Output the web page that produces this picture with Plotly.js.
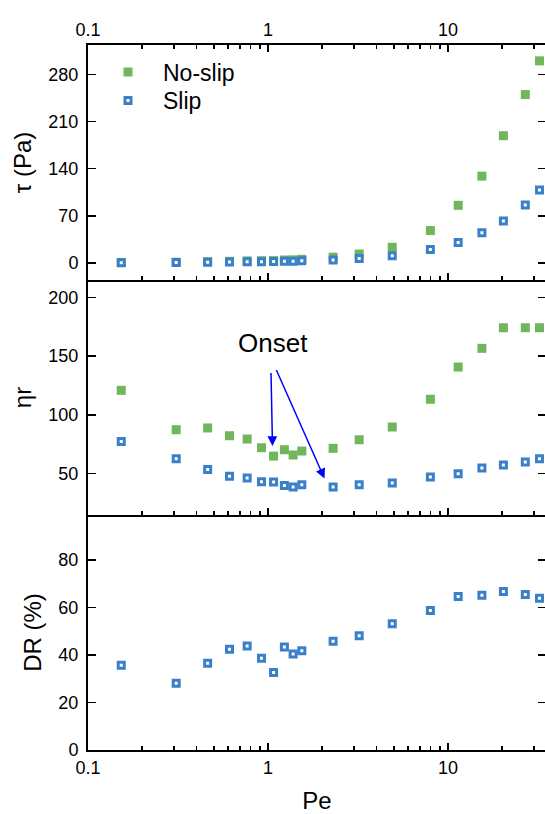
<!DOCTYPE html>
<html>
<head>
<meta charset="utf-8">
<script src="https://cdn.plot.ly/plotly-3.0.1.min.js"></script>
<style>
html,body{margin:0;padding:0;overflow:hidden;background:#fff;}
#chart{width:548px;height:814px;}
</style>
</head>
<body>
<div id="chart"></div>
<script>
// Peclet number (shared x)
const Pe = [0.153, 0.309, 0.462, 0.611, 0.766, 0.92, 1.074, 1.233, 1.379, 1.541, 2.3, 3.21, 4.9, 7.98, 11.39, 15.43, 20.31, 26.88, 32.24];
// shear stress tau (Pa)
const tauNoSlip = [1.0, 1.4, 2.2, 2.7, 3.3, 3.6, 3.7, 4.6, 4.9, 5.7, 8.8, 13.5, 23.5, 48.3, 85.7, 129, 189, 250, 300];
const tauSlip = [0.6, 1.0, 1.3, 1.6, 1.9, 2.1, 2.5, 2.6, 2.9, 3.4, 4.8, 7.0, 11.0, 20.1, 30.5, 45.2, 62.3, 86.1, 108.3];
// relative viscosity eta_r
const etaNoSlip = [120.9, 87.4, 88.9, 82.3, 79.5, 72.1, 65.0, 70.4, 65.9, 69.3, 71.6, 78.9, 89.7, 113.3, 140.7, 156.6, 174.1, 174.1, 174.1];
const etaSlip = [77.5, 62.8, 53.7, 47.8, 46.3, 43.2, 42.9, 40.1, 38.7, 40.6, 38.7, 40.6, 42.1, 47.2, 50.0, 54.8, 57.4, 59.9, 62.8];
// drag reduction DR (%)
const DR = [35.7, 28.1, 36.5, 42.4, 43.8, 38.6, 32.6, 43.4, 40.4, 41.8, 45.8, 48.1, 53.1, 58.7, 64.6, 65.1, 66.7, 65.4, 63.9];

const seriesNames = ['No-slip', 'Slip'];
const xTickVals = [0.1, 1, 10];
const xTickText = ['0.1', '1', '10'];
const xMinorVals = [0.2,0.3,0.4,0.5,0.6,0.7,0.8,0.9,2,3,4,5,6,7,8,9,20,30];
const tauTicks = [0, 70, 140, 210, 280];
const etaTicks = [50, 100, 150, 200];
const drTicks = [0, 20, 40, 60, 80];

const GREEN = 'rgb(112,183,92)';
const BLUE = 'rgb(58,128,200)';
const FONT = '"Liberation Sans", Arial, sans-serif';

const greenMarker = {symbol: 'square', size: 9, color: GREEN, line: {width: 0}};
const blueMarker = {symbol: 'square', size: 6, color: '#ffffff', line: {width: 3, color: BLUE}};

const traces = [
  {x: Pe, y: tauNoSlip, xaxis: 'x', yaxis: 'y', mode: 'markers', type: 'scatter', name: seriesNames[0], marker: greenMarker, showlegend: true, legend: 'legend'},
  {x: Pe, y: tauSlip, xaxis: 'x', yaxis: 'y', mode: 'markers', type: 'scatter', name: seriesNames[1], marker: blueMarker, showlegend: true, legend: 'legend2'},
  {x: Pe, y: etaNoSlip, xaxis: 'x2', yaxis: 'y2', mode: 'markers', type: 'scatter', name: seriesNames[0], marker: greenMarker, showlegend: false},
  {x: Pe, y: etaSlip, xaxis: 'x2', yaxis: 'y2', mode: 'markers', type: 'scatter', name: seriesNames[1], marker: blueMarker, showlegend: false},
  {x: Pe, y: DR, xaxis: 'x3', yaxis: 'y3', mode: 'markers', type: 'scatter', name: seriesNames[1], marker: blueMarker, showlegend: false}
];

const xRange = [-1, 1.5444];
function xaxisBase(extra) {
  return Object.assign({
    type: 'log', range: xRange, showgrid: false, zeroline: false,
    showline: true, linecolor: '#000', linewidth: 2,
    ticks: 'inside', ticklen: 7, tickwidth: 1.5, tickcolor: '#000',
    tickvals: xTickVals, ticktext: xTickText,
    minor: {tickvals: xMinorVals, ticks: 'inside', ticklen: 4, tickwidth: 1.5, tickcolor: '#000', showgrid: false},
    tickfont: {family: FONT, size: 18, color: '#000'}
  }, extra);
}
function yaxisBase(extra) {
  return Object.assign({
    showgrid: false, zeroline: false, showline: true, linecolor: '#000', linewidth: 2,
    ticks: 'inside', ticklen: 8, tickwidth: 1.5, tickcolor: '#000', mirror: 'ticks',
    tickfont: {family: FONT, size: 18, color: '#000'},
    ticklabelstandoff: 4
  }, extra);
}
function legendAt(py) {
  return {
    x: (93 - 88) / 458, y: 1 - (py - 45) / 705, xanchor: 'left', yanchor: 'middle',
    bgcolor: 'rgba(0,0,0,0)', borderwidth: 0,
    font: {family: FONT, size: 23, color: '#000'},
    itemwidth: 60
  };
}

const layout = {
  width: 548, height: 814,
  margin: {l: 88, r: 2, t: 45, b: 64},
  paper_bgcolor: '#fff', plot_bgcolor: '#fff',
  font: {family: FONT, color: '#000'},
  showlegend: true,
  legend: legendAt(72),
  legend2: legendAt(100.5),
  xaxis: xaxisBase({anchor: 'y', side: 'top', mirror: 'ticks', showticklabels: true, ticklabelstandoff: 0}),
  xaxis2: xaxisBase({anchor: 'y2', matches: 'x', side: 'bottom', mirror: false, showticklabels: false}),
  xaxis3: xaxisBase({anchor: 'y3', matches: 'x', side: 'bottom', mirror: false, showticklabels: true, ticklabelstandoff: 0,
    title: {text: 'Pe', font: {family: FONT, size: 24, color: '#000'}, standoff: 22}}),
  yaxis: yaxisBase({domain: [0.6667, 1], anchor: 'x', range: [-25, 323.5], tickvals: tauTicks,
    title: {text: 'τ (Pa)', font: {family: FONT, size: 24, color: '#000'}, standoff: 10}}),
  yaxis2: yaxisBase({domain: [0.3333, 0.6667], anchor: 'x2', range: [14.9, 214.7], tickvals: etaTicks,
    title: {text: 'ηr', font: {family: FONT, size: 24, color: '#000'}, standoff: 10}}),
  yaxis3: yaxisBase({domain: [0, 0.3333], anchor: 'x3', range: [0, 98.9], tickvals: drTicks,
    title: {text: 'DR (%)', font: {family: FONT, size: 24, color: '#000'}, standoff: 10}}),
  annotations: [
    {xref: 'paper', yref: 'paper', x: (273 - 88) / 458, y: 1 - (343 - 45) / 705, text: 'Onset', showarrow: false,
     font: {family: FONT, size: 26, color: '#000'}, xanchor: 'center', yanchor: 'middle'},
    {xref: 'paper', yref: 'paper', x: (272.5 - 88) / 458, y: 1 - (446 - 45) / 705, text: '', showarrow: true,
     axref: 'pixel', ayref: 'pixel', ax: -1.5, ay: -74.5, arrowcolor: '#0000ff', arrowwidth: 1.5, arrowhead: 2, arrowsize: 1.3, standoff: 0, startstandoff: 0},
    {xref: 'paper', yref: 'paper', x: (324.5 - 88) / 458, y: 1 - (478.5 - 45) / 705, text: '', showarrow: true,
     axref: 'pixel', ayref: 'pixel', ax: -48.8, ay: -110, arrowcolor: '#0000ff', arrowwidth: 1.5, arrowhead: 2, arrowsize: 1.3, standoff: 0, startstandoff: 0}
  ]
};

Plotly.newPlot('chart', traces, layout, {displayModeBar: false, staticPlot: true});
</script>
</body>
</html>
